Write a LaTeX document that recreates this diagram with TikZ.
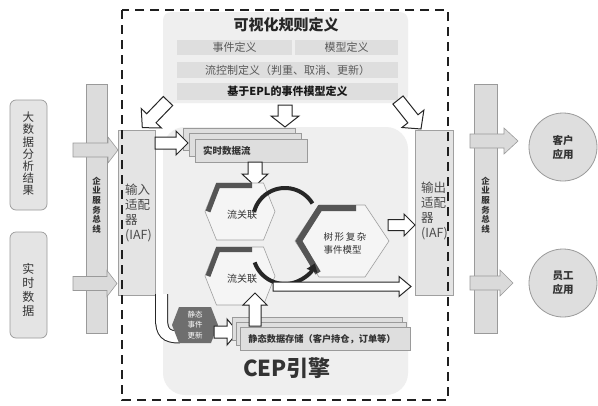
\documentclass[tikz,border=0pt]{standalone}
\usepackage{fontspec}
\setmainfont{Noto Sans CJK SC}
\usetikzlibrary{arrows.meta}
\definecolor{panel}{HTML}{EFEFEF}
\definecolor{rowgray}{HTML}{DEDEDE}
\definecolor{boxgray}{HTML}{E4E4E4}
\definecolor{busgray}{HTML}{DCDCDC}
\definecolor{bordergray}{HTML}{9A9A9A}
\definecolor{arrowgray}{HTML}{DADADA}
\definecolor{hexfill}{HTML}{F5F5F5}
\definecolor{hexline}{HTML}{A0A0A0}
\definecolor{bandgray}{HTML}{555555}
\definecolor{stathex}{HTML}{6E6E6E}
\definecolor{txt}{HTML}{333333}
\newcommand\blkarrow[7]{\begin{scope}[shift={(#2)},rotate=#3]\path[#1] (0,-#5) -- ({#4-#7},-#5) -- ({#4-#7},-#6) -- (#4,0) -- ({#4-#7},#6) -- ({#4-#7},#5) -- (0,#5) -- cycle;\end{scope}}
\newcommand\hexagon[6]{\path[#1] ({#2-#4},#3) -- ({#2-#5},{#3-#6}) -- ({#2+#5},{#3-#6}) -- ({#2+#4},#3) -- ({#2+#5},{#3+#6}) -- ({#2-#5},{#3+#6}) -- cycle;}
\begin{document}
\begin{tikzpicture}[x=1pt,y=-1pt,
  every node/.style={inner sep=0pt, text=txt},
  srcbox/.style={fill=boxgray, draw=bordergray, line width=0.7pt, rounded corners=6pt},
  busbox/.style={fill=busgray, draw=bordergray, line width=0.6pt},
  adapter/.style={fill=boxgray, draw=hexline, line width=0.6pt},
  rowbox/.style={fill=rowgray, draw=none},
  stackbox/.style={fill=rowgray, draw=bordergray, line width=0.6pt},
  hollow/.style={fill=white, draw=black!85, line width=1pt, line join=miter},
  grayarrow/.style={fill=arrowgray, draw=bordergray, line width=0.6pt},
  hexbody/.style={fill=hexfill, draw=hexline, line width=0.6pt},
  band/.style={draw=bandgray, line width=5pt, line join=miter},
  app/.style={circle, fill=rowgray, draw=bordergray, line width=0.8pt, minimum size=68pt},
]
\useasboundingbox[fill=white] (0,0) rectangle (598,405);

% panels
\path[fill=panel, rounded corners=8pt] (163,12) rectangle (408,103);
\path[fill=panel, rounded corners=22pt] (163,127) rectangle (408,395);

% sources
\path[srcbox] (10,100) rectangle (47,210);
\path[srcbox] (10,232) rectangle (47,338);
\node[align=center, font=\fontsize{11.5}{12.2}\selectfont] (bigdata) at (28.5,154) {大\\数\\据\\分\\析\\结\\果};
\node[align=center, font=\fontsize{12}{14}\selectfont] (rtdata) at (28.5,290) {实\\时\\数\\据};

% buses
\path[busbox] (86,84) rectangle (107,333);
\path[busbox] (474,84) rectangle (497,333);
\node[align=center, font=\fontsize{8.5}{9.6}\selectfont\bfseries] (busL) at (96.5,205) {企\\业\\服\\务\\总\\线};
\node[align=center, font=\fontsize{8.5}{9.6}\selectfont\bfseries] (busR) at (485.5,205) {企\\业\\服\\务\\总\\线};

% adapters
\path[adapter] (118,130) rectangle (155,295);
\path[adapter] (415,130) rectangle (453,295);
\node[align=left, anchor=north west, font=\fontsize{12.5}{15}\selectfont, text=black!70] (iaf) at (125,184) {输入\\适配\\器\\(IAF)};
\node[align=left, anchor=north west, font=\fontsize{12.5}{15}\selectfont, text=black!70] (oaf) at (421,182) {输出\\适配\\器\\(IAF)};

% dashed frame
\draw[black!88, line width=2.3pt, dash pattern=on 9pt off 6pt] (122,10) rectangle (448,400);

% apps
\node[app, align=center, font=\fontsize{10.5}{14}\selectfont\bfseries] (client) at (563,147) {客户\\应用};
\node[app, align=center, font=\fontsize{10.5}{14}\selectfont\bfseries] (staff) at (563,283) {员工\\应用};

% gray arrows
\blkarrow{grayarrow}{73,150}{0}{45}{7}{13}{10}
\blkarrow{grayarrow}{73,283.5}{0}{44}{7}{13}{10}
\blkarrow{grayarrow}{470,141}{0}{48}{7}{13}{14}
\blkarrow{grayarrow}{470,283}{0}{43}{7}{13}{13}

% rule definition
\node[font=\fontsize{15}{15}\selectfont\bfseries, text=black!85] (title) at (286,25) {可视化规则定义};
\node[rowbox, minimum width=115, minimum height=15, font=\fontsize{11}{11}\selectfont, text=black!65] (evdef) at (234.5,47.5) {事件定义};
\node[rowbox, minimum width=103, minimum height=15, font=\fontsize{11}{11}\selectfont, text=black!65] (moddef) at (346.5,47.5) {模型定义};
\node[rowbox, minimum width=221, minimum height=16, font=\fontsize{11}{11}\selectfont, text=black!65] (flowdef) at (287.5,70) {流控制定义（判重、取消、更新）};
\node[rowbox, minimum width=221, minimum height=17, font=\fontsize{11}{11}\selectfont\bfseries, text=black!90] (epldef) at (287.5,91.5) {基于EPL的事件模型定义};

% real-time stream stack
\path[stackbox] (183,128) rectangle (295,150);
\path[stackbox] (189,133) rectangle (301,156);
\path[stackbox] (195,139) rectangle (307,162);
\node[anchor=west, font=\fontsize{9.5}{9.5}\selectfont\bfseries] (stream) at (203,150.5) {实时数据流};

% hollow arrows
\blkarrow{hollow}{168,101}{226}{37}{6.5}{14}{13}
\blkarrow{hollow}{398,100}{-51.6}{37}{6.5}{14}{13}
\blkarrow{hollow}{285,105}{-90}{22}{7}{14}{11}
\blkarrow{hollow}{155,143}{0}{33}{6}{12}{12}
\blkarrow{hollow}{255,162}{-90}{24}{7}{13}{12}

% curved band from input adapter
\draw[black!85, line width=1pt, double=white, double distance=11pt] (161.5,294) -- (161.5,318) .. controls (161.5,333) and (166,337) .. (180,337);

% hexagons
\hexagon{hexbody}{240}{211.5}{35}{23.5}{28.5}
\draw[band] (252,185.5) -- (218,185.5) -- (208,211.5);
\hexagon{hexbody}{240}{276}{35}{23.5}{29}
\draw[band] (252,249.5) -- (218,249.5) -- (208,276);
\hexagon{hexbody}{342}{241}{47}{23}{36}
\draw[band, line width=6pt] (356,208) -- (320,208) -- (299,241) -- (318,273);
\node[font=\fontsize{10}{10}\selectfont] (join1) at (242,215) {流关联};
\node[font=\fontsize{10}{10}\selectfont] (join2) at (242,279) {流关联};
\node[align=left, font=\fontsize{9.5}{13}\selectfont] (tree) at (345,243) {树\,形\,复\,杂\\事件模型};

% ring arrows
\draw[black!85, line width=4pt] (254.1,211.7) arc[start angle=195, end angle=329, radius=32];
\draw[black!85, line width=4pt, -{Triangle[length=8pt,width=11pt]}] (254.7,262.4) arc[start angle=161, end angle=21, radius=32];

% outputs of engine
\blkarrow{hollow}{388,225}{0}{27}{5.5}{11}{11}
\blkarrow{hollow}{273,286.5}{0}{138}{4.5}{10}{12}

% static event update
\hexagon{fill=stathex, draw=none}{195}{325}{23}{16}{18}
\node[align=center, font=\fontsize{7.5}{10.5}\selectfont, text=white] (statupd) at (195,325) {静态\\事件\\更新};
\blkarrow{hollow}{214,332}{0}{24}{6}{13}{11}

% static storage stack
\path[stackbox] (232,317) rectangle (402,340);
\path[stackbox] (236,322) rectangle (406,345);
\blkarrow{hollow}{255,326}{90}{33}{6}{12}{12}
\path[stackbox] (240,327) rectangle (410,350);
\node[font=\fontsize{9.2}{9.2}\selectfont\bfseries] (storage) at (322,339) {静态数据存储（客户持仓，订单等）};

% CEP engine label
\node[font=\fontsize{22}{22}\selectfont\bfseries, text=black!80] (cep) at (287,368) {CEP引擎};
\end{tikzpicture}
\end{document}
